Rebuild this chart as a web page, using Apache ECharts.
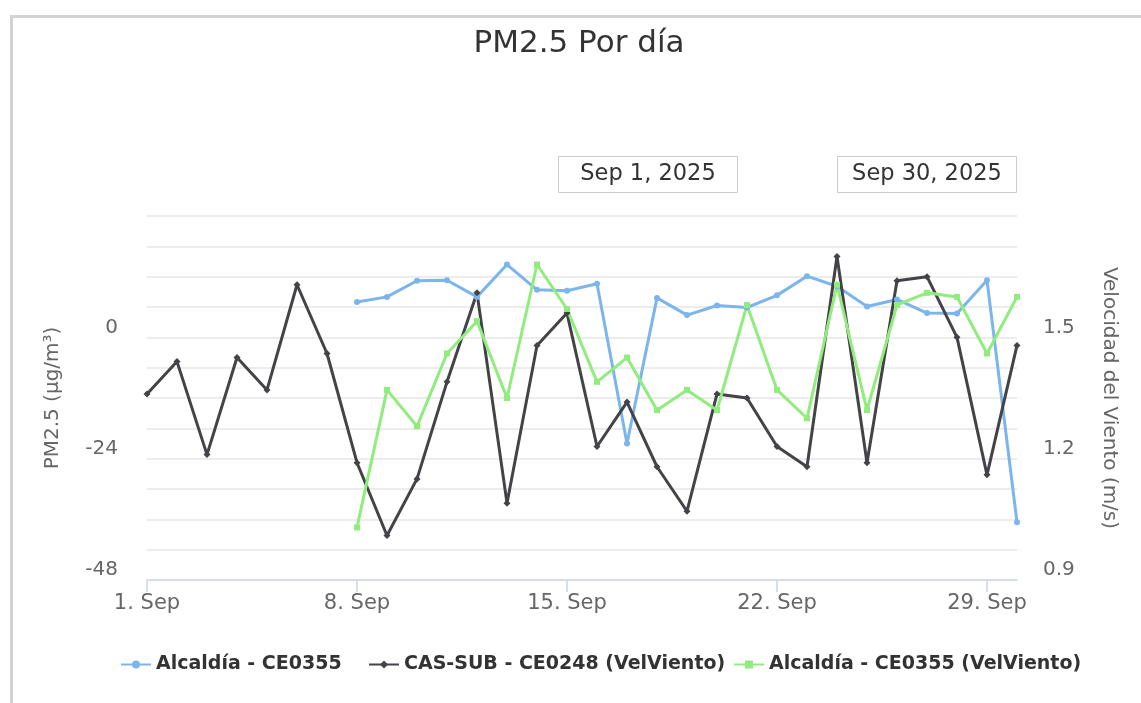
<!DOCTYPE html>
<html>
<head>
<meta charset="utf-8">
<script src="https://cdn.jsdelivr.net/npm/echarts@6/dist/echarts.min.js"></script>
<style>
  html, body { margin: 0; padding: 0; background: #fff; }
  #main { width: 1141px; height: 703px; }
</style>
</head>
<body>
<div id="main"></div>
<script>
// categorías del eje x (días de septiembre)
const days = [
  "1. Sep", "2. Sep", "3. Sep", "4. Sep", "5. Sep", "6. Sep", "7. Sep",
  "8. Sep", "9. Sep", "10. Sep", "11. Sep", "12. Sep", "13. Sep", "14. Sep",
  "15. Sep", "16. Sep", "17. Sep", "18. Sep", "19. Sep", "20. Sep", "21. Sep",
  "22. Sep", "23. Sep", "24. Sep", "25. Sep", "26. Sep", "27. Sep", "28. Sep",
  "29. Sep", "30. Sep"
];

// PM2.5 Alcaldía (eje izquierdo)
const pm25Alcaldia = [
  null, null, null, null, null, null, null,
  7.0, 8.0, 11.2, 11.3, 8.0, 14.4, 9.4,
  9.2, 10.6, -21.0, 7.8, 4.4, 6.3, 5.9,
  8.3, 12.1, 10.1, 6.1, 7.5, 4.8, 4.7,
  11.3, -36.6
];

// velocidad del viento CAS-SUB (eje derecho)
const vientoCasSub = [
  1.36, 1.44, 1.21, 1.45, 1.37, 1.63, 1.46,
  1.19, 1.01, 1.15, 1.39, 1.61, 1.09, 1.48,
  1.56, 1.23, 1.34, 1.18, 1.07, 1.36, 1.35,
  1.23, 1.18, 1.70, 1.19, 1.64, 1.65, 1.50,
  1.16, 1.48
];

// velocidad del viento Alcaldía (eje derecho)
const vientoAlcaldia = [
  null, null, null, null, null, null, null,
  1.03, 1.37, 1.28, 1.46, 1.54, 1.35, 1.68,
  1.57, 1.39, 1.45, 1.32, 1.37, 1.32, 1.58,
  1.37, 1.30, 1.63, 1.32, 1.58, 1.61, 1.60,
  1.46, 1.60
];

const leftTicks = [0, -24, -48];
const rightTicks = [0.9, 1.2, 1.5];
const seriesNames = [
  "Alcaldía - CE0355",
  "CAS-SUB - CE0248 (VelViento)",
  "Alcaldía - CE0355 (VelViento)"
];

const font = "DejaVu Sans";
const myChart = echarts.init(document.getElementById("main"));

const legendStyle = { color: "#333333", fontSize: 19, fontWeight: "bold", fontFamily: font };
function legendAt(name, x) {
  return {
    data: [name], left: x, top: 650,
    itemWidth: 30, itemHeight: 10, itemGap: 0,
    textStyle: legendStyle
  };
}

function dateBox(x, label) {
  return {
    type: "group", left: x, top: 156,
    children: [
      { type: "rect", shape: { x: 0, y: 0, width: 179, height: 36 },
        style: { fill: "#fff", stroke: "#cccccc", lineWidth: 1 } },
      { type: "text", x: 89.5, y: 18,
        style: { text: label, fill: "#333333", fontSize: 22.5, fontFamily: font,
                 align: "center", verticalAlign: "middle" } }
    ]
  };
}

const option = {
  animation: false,
  backgroundColor: "#ffffff",
  title: {
    text: "PM2.5 Por día",
    left: 574, top: 23, textAlign: "center",
    textStyle: { color: "#333333", fontSize: 31, fontWeight: "normal", fontFamily: font }
  },
  graphic: [
    { type: "rect", left: 9, top: 14, shape: { width: 1140, height: 700 },
      style: { fill: "none", stroke: "#d2d2d2", lineWidth: 3 }, silent: true },
    dateBox(558, "Sep 1, 2025"),
    dateBox(837, "Sep 30, 2025")
  ],
  legend: [
    legendAt(seriesNames[0], 115),
    legendAt(seriesNames[1], 363),
    legendAt(seriesNames[2], 728)
  ],
  grid: { left: 147, right: 124, top: 216, bottom: 123 },
  xAxis: {
    type: "category",
    data: days,
    boundaryGap: false,
    axisLine: { onZero: false, lineStyle: { color: "#ccd6eb", width: 1.5 } },
    axisTick: {
      alignWithLabel: true, length: 12,
      interval: (i) => i % 7 === 0,
      lineStyle: { color: "#ccd6eb", width: 1.5 }
    },
    axisLabel: {
      interval: (i) => i % 7 === 0,
      color: "#666666", fontSize: 21, fontFamily: font, margin: 13
    },
    splitLine: { show: false }
  },
  yAxis: [
    {
      type: "value",
      min: -48, max: 24, interval: 6,
      name: "PM2.5 (µg/m³)",
      nameLocation: "middle", nameGap: 84,
      nameTextStyle: { color: "#666666", fontSize: 20, fontFamily: font },
      axisLine: { show: false },
      axisTick: { show: false },
      axisLabel: {
        color: "#666666", fontSize: 20, fontFamily: font, margin: 29,
        verticalAlign: "bottom",
        formatter: (v) => (leftTicks.indexOf(Math.round(v)) >= 0 && Math.abs(v - Math.round(v)) < 1e-6 ? String(Math.round(v)) : "")
      },
      splitLine: { lineStyle: { color: "#e6e6e6", width: 1.5 } }
    },
    {
      type: "value",
      min: 0.9, max: 1.8, interval: 0.075,
      name: "Velocidad del Viento (m/s)",
      nameLocation: "middle", nameGap: 82, nameRotate: -90,
      nameTextStyle: { color: "#666666", fontSize: 20, fontFamily: font },
      axisLine: { show: false },
      axisTick: { show: false },
      axisLabel: {
        color: "#666666", fontSize: 20, fontFamily: font, margin: 26,
        verticalAlign: "bottom",
        formatter: (v) => {
          const hit = rightTicks.find((t) => Math.abs(t - v) < 1e-6);
          return hit !== undefined ? hit.toFixed(1) : "";
        }
      },
      splitLine: { show: false }
    }
  ],
  series: [
    {
      name: seriesNames[0], type: "line", yAxisIndex: 0,
      data: pm25Alcaldia, color: "#7cb5ec",
      symbol: "circle", symbolSize: 6, showAllSymbol: true,
      lineStyle: { width: 3 }
    },
    {
      name: seriesNames[1], type: "line", yAxisIndex: 1,
      data: vientoCasSub, color: "#434348",
      symbol: "diamond", symbolSize: 7, showAllSymbol: true,
      lineStyle: { width: 3 }
    },
    {
      name: seriesNames[2], type: "line", yAxisIndex: 1,
      data: vientoAlcaldia, color: "#90ed7d",
      symbol: "rect", symbolSize: 6, showAllSymbol: true,
      lineStyle: { width: 3 }
    }
  ]
};

myChart.setOption(option);
</script>
</body>
</html>
